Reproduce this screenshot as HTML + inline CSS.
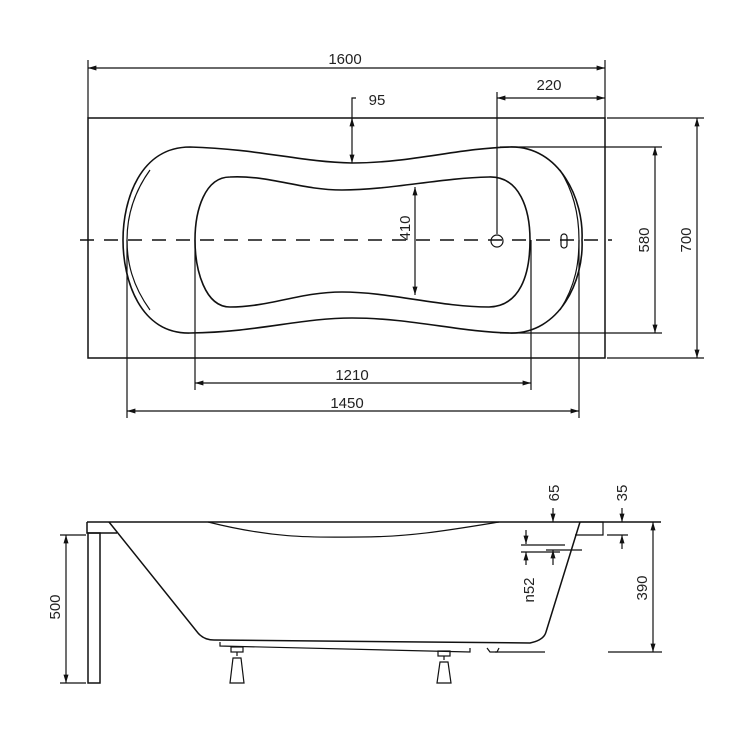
<!DOCTYPE html>
<html><head><meta charset="utf-8"><style>
html,body{margin:0;padding:0;background:#fff;}
svg{display:block;}
text{font-family:"Liberation Sans",sans-serif;font-size:15px;fill:#222;}
</style></head><body>
<svg width="750" height="750" viewBox="0 0 750 750" xmlns="http://www.w3.org/2000/svg">
<defs>
<marker id="a" viewBox="0 0 10 10" refX="10" refY="5" markerWidth="7" markerHeight="7" orient="auto-start-reverse"><path d="M0,2 L10,5 L0,8 z" fill="#111"/></marker>
</defs>
<g stroke="#111" fill="none" stroke-width="1.2">
<rect x="88" y="118" width="517" height="240" stroke-width="1.5"/>
<line x1="80" y1="240" x2="612" y2="240" stroke-dasharray="14,10" stroke-width="1.4"/>
<path d="M190 147 C260 149,300 162,352 163 C410 163,460 148,510 147 C560 146,584 200,582 240 C584 280,560 334,510 333 C460 332,410 318,352 318 C300 318,260 332,190 333 C140 334,123 280,123 240 C123 200,140 147,190 147Z" stroke-width="1.6"/>
<path d="M150 170 C132 195,127 220,127 240 C127 262,132 285,150 310" />
<path d="M560 170 C576 195,579 220,579 240 C579 262,576 285,560 310" />
<path d="M230 177 C270 175,300 190,342 190 C390 190,440 178,489 177 C520 176,530 210,530 240 C530 275,520 306,489 307 C440 307,390 292,342 292 C300 292,270 307,230 307 C205 307,195 270,195 240 C195 210,205 177,230 177Z" stroke-width="1.6"/>
<line x1="88" y1="60" x2="88" y2="118"/><line x1="605" y1="60" x2="605" y2="118"/>
<line x1="88" y1="68" x2="605" y2="68" marker-start="url(#a)" marker-end="url(#a)"/>
<line x1="497" y1="92" x2="497" y2="234"/>
<line x1="497" y1="98" x2="605" y2="98" marker-start="url(#a)" marker-end="url(#a)"/>
<circle cx="497" cy="241" r="6"/>
<rect x="561" y="234" width="6" height="14" rx="3"/>
<path d="M356 98 L352 98 L352 163" marker-end="url(#a)"/>
<line x1="352" y1="118" x2="352" y2="128" marker-start="url(#a)"/>
<line x1="415" y1="187" x2="415" y2="295" marker-start="url(#a)" marker-end="url(#a)"/>
<line x1="500" y1="147" x2="662" y2="147"/><line x1="500" y1="333" x2="662" y2="333"/>
<line x1="655" y1="147" x2="655" y2="333" marker-start="url(#a)" marker-end="url(#a)"/>
<line x1="607" y1="118" x2="704" y2="118"/><line x1="607" y1="358" x2="704" y2="358"/>
<line x1="697" y1="118" x2="697" y2="358" marker-start="url(#a)" marker-end="url(#a)"/>
<line x1="195" y1="240" x2="195" y2="390"/><line x1="531" y1="240" x2="531" y2="390"/>
<line x1="195" y1="383" x2="531" y2="383" marker-start="url(#a)" marker-end="url(#a)"/>
<line x1="127" y1="240" x2="127" y2="418"/><line x1="579" y1="240" x2="579" y2="418"/>
<line x1="127" y1="411" x2="579" y2="411" marker-start="url(#a)" marker-end="url(#a)"/>

<line x1="87" y1="522" x2="661" y2="522" stroke-width="1.5"/>
<rect x="88" y="533" width="12" height="150" stroke-width="1.5"/>
<path d="M87 522 L87 533 L117 533" stroke-width="1.5"/>
<path d="M109 522 L198 633 Q204 640 214 640 L530 643 Q544 640 546 632 L580 522" stroke-width="1.5"/>
<path d="M580 522 L603 522 L603 535 L575 535"/>
<path d="M208 522 C280 540,320 537,360 537 C410 537,450 530,499 522"/>
<path d="M220 642 L220 646 L470 652 L470 648"/>
<path d="M487 648 L490 652 L497 652 L499 648"/>
<rect x="231" y="647" width="12" height="5"/><line x1="237" y1="652" x2="237" y2="656"/>
<path d="M230 683 L244 683 L241 658 L233 658Z"/>
<rect x="438" y="651" width="12" height="5"/><line x1="444" y1="656" x2="444" y2="660"/>
<path d="M437 683 L451 683 L448 662 L440 662Z"/>
<line x1="60" y1="535" x2="86" y2="535"/><line x1="60" y1="683" x2="86" y2="683"/>
<line x1="66" y1="535" x2="66" y2="683" marker-start="url(#a)" marker-end="url(#a)"/>
<line x1="608" y1="652" x2="662" y2="652"/><line x1="495" y1="652" x2="545" y2="652"/>
<line x1="653" y1="522" x2="653" y2="652" marker-start="url(#a)" marker-end="url(#a)"/>
<line x1="553" y1="508" x2="553" y2="522" marker-end="url(#a)"/>
<line x1="622" y1="508" x2="622" y2="522" marker-end="url(#a)"/>
<line x1="622" y1="549" x2="622" y2="535" marker-end="url(#a)"/>
<line x1="607" y1="535" x2="628" y2="535"/>
<line x1="526" y1="530" x2="526" y2="544" marker-end="url(#a)"/>
<line x1="526" y1="565" x2="526" y2="552" marker-end="url(#a)"/>
<line x1="521" y1="545" x2="565" y2="545"/>
<line x1="521" y1="552" x2="560" y2="552"/>
<line x1="546" y1="550" x2="582" y2="550"/>
<line x1="553" y1="550" x2="553" y2="565" marker-start="url(#a)"/>
</g>
<text x="345" y="64" text-anchor="middle">1600</text>
<text x="549" y="90" text-anchor="middle">220</text>
<text x="377" y="105" text-anchor="middle">95</text>
<text x="352" y="380" text-anchor="middle">1210</text>
<text x="347" y="408" text-anchor="middle">1450</text>
<text transform="translate(410,228) rotate(-90)" text-anchor="middle">410</text>
<text transform="translate(649,240) rotate(-90)" text-anchor="middle">580</text>
<text transform="translate(691,240) rotate(-90)" text-anchor="middle">700</text>
<text transform="translate(60,607) rotate(-90)" text-anchor="middle">500</text>
<text transform="translate(647,588) rotate(-90)" text-anchor="middle">390</text>
<text transform="translate(534,590) rotate(-90)" text-anchor="middle">n52</text>
<text transform="translate(559,493) rotate(-90)" text-anchor="middle">65</text>
<text transform="translate(627,493) rotate(-90)" text-anchor="middle">35</text>
</svg>
</body></html>
